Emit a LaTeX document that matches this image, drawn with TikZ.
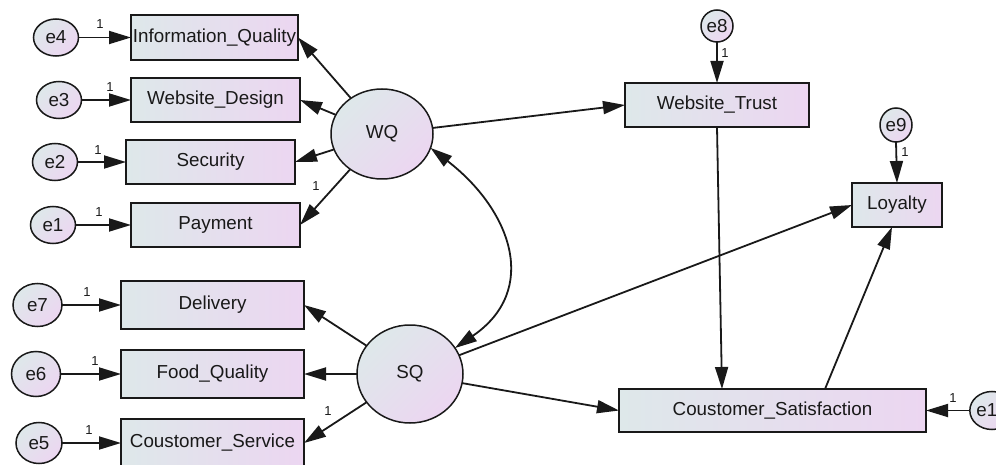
\documentclass[tikz,border=0pt]{standalone}
\usepackage{fontspec}
\setmainfont{Liberation Sans}
\usetikzlibrary{arrows.meta,calc,shapes.geometric}
\definecolor{boxL}{RGB}{222,232,234}
\definecolor{boxR}{RGB}{236,214,241}
\definecolor{ink}{RGB}{25,25,25}
\tikzset{
  obs/.style={draw=ink, line width=1.9pt, rectangle, inner sep=0pt, outer sep=0pt,
    shading=axis, top color=boxL, bottom color=boxR, shading angle=90,
    text=ink, font=\fontsize{18.8}{20}\selectfont},
  lat/.style={draw=ink, line width=1.5pt, ellipse, inner sep=0pt, outer sep=0pt,
    shading=axis, top color=boxL, bottom color=boxR, shading angle=45,
    text=ink, font=\fontsize{18.8}{20}\selectfont},
  err/.style={lat},
  sempath/.style={draw=ink, line width=1.8pt, -{Triangle[length=22pt,width=13pt]}},
  covpath/.style={draw=ink, line width=1.8pt, {Triangle[length=22pt,width=13pt]}-{Triangle[length=22pt,width=13pt]}},
  wt1/.style={text=ink, inner sep=0pt, font=\fontsize{13}{14}\selectfont},
}
\begin{document}
\begin{tikzpicture}[x=1pt,y=-1pt]
\clip (0,0) rectangle (996,465);

% observed indicators of WQ
\node[obs, minimum width=167, minimum height=45] (iq)  at (214.5,37.5) {Information\_Quality};
\node[obs, minimum width=169, minimum height=44] (wd)  at (215.5,100)  {Website\_Design};
\node[obs, minimum width=169, minimum height=44] (sec) at (210.5,162)  {Security};
\node[obs, minimum width=169, minimum height=44] (pay) at (215.5,225)  {Payment};

% observed indicators of SQ
\node[obs, minimum width=183, minimum height=48] (del) at (212.5,305) {Delivery};
\node[obs, minimum width=183, minimum height=48] (fq)  at (212.5,374) {Food\_Quality};
\node[obs, minimum width=183, minimum height=48] (cse) at (212.5,443) {Coustomer\_Service};

% outcome variables
\node[obs, minimum width=184, minimum height=44] (wt)   at (717,105)   {Website\_Trust};
\node[obs, minimum width=90,  minimum height=44] (loy)  at (897,205)   {Loyalty};
\node[obs, minimum width=307, minimum height=43] (csat) at (772.5,410.5) {Coustomer\_Satisfaction};

% latent factors
\node[lat, minimum width=102, minimum height=90] (wq) at (382,134) {WQ};
\node[lat, minimum width=106, minimum height=98] (sq) at (410,374) {SQ};

% error terms
\node[err, minimum width=45, minimum height=37] (e4) at (56,37.5) {e4};
\node[err, minimum width=45, minimum height=37] (e3) at (59,100)  {e3};
\node[err, minimum width=45, minimum height=37] (e2) at (55,162)  {e2};
\node[err, minimum width=45, minimum height=37] (e1) at (53,225)  {e1};
\node[err, minimum width=49, minimum height=43] (e7) at (37.5,305) {e7};
\node[err, minimum width=49, minimum height=45] (e6) at (36,374)   {e6};
\node[err, minimum width=46, minimum height=41] (e5) at (39,443)   {e5};
\node[err, minimum width=32, minimum height=32] (e8) at (717,26)   {e8};
\node[err, minimum width=32, minimum height=34] (e9) at (896,125)  {e9};
\node[err, minimum width=38, minimum height=38] (e10) at (992,410.5) {e10};

% error paths
\draw[sempath] (e4.east) -- (iq.west);
\draw[sempath] (e3.east) -- (wd.west);
\draw[sempath] (e2.east) -- (sec.west);
\draw[sempath] (e1.east) -- (pay.west);
\draw[sempath] (e7.east) -- (del.west);
\draw[sempath] (e6.east) -- (fq.west);
\draw[sempath] (e5.east) -- (cse.west);
\draw[sempath] (e8.south) -- (wt.north);
\draw[sempath] (e9.south) -- (loy.north);
\draw[sempath] (e10.west) -- (csat.east);

% loadings
\draw[sempath] (wq) -- (iq.east);
\draw[sempath] (wq) -- (wd.east);
\draw[sempath] (wq) -- (sec.east);
\draw[sempath] (wq) -- (pay.east);
\draw[sempath] (sq) -- (del.east);
\draw[sempath] (sq) -- (fq.east);
\draw[sempath] (sq) -- (cse.east);

% structural paths
\draw[sempath] (wq) -- (wt.west);
\draw[sempath] (sq) -- (loy.west);
\draw[sempath] (sq) -- (csat.west);
\draw[sempath] (wt.south) -- ([xshift=5pt]wt.south |- csat.north);
\draw[sempath] ([xshift=52.5pt]csat.north) -- ([xshift=-5pt]loy.south);

% covariance between the factors
\draw[covpath] (wq.-16) .. controls (511,210) and (540,290) .. (sq.30);

% fixed regression weights
\node[wt1] (l4)  at (100,24)  {1};
\node[wt1] (l3)  at (110,87)  {1};
\node[wt1] (l2)  at (98,150)  {1};
\node[wt1] (l1)  at (99,212)  {1};
\node[wt1] (lpy) at (316,186) {1};
\node[wt1] (l7)  at (87,292)  {1};
\node[wt1] (l6)  at (95,361)  {1};
\node[wt1] (l5)  at (89,430)  {1};
\node[wt1] (lcs) at (328,411) {1};
\node[wt1] (l8)  at (725,53)  {1};
\node[wt1] (l9)  at (905,152) {1};
\node[wt1] (l10) at (953,398) {1};
\end{tikzpicture}
\end{document}
